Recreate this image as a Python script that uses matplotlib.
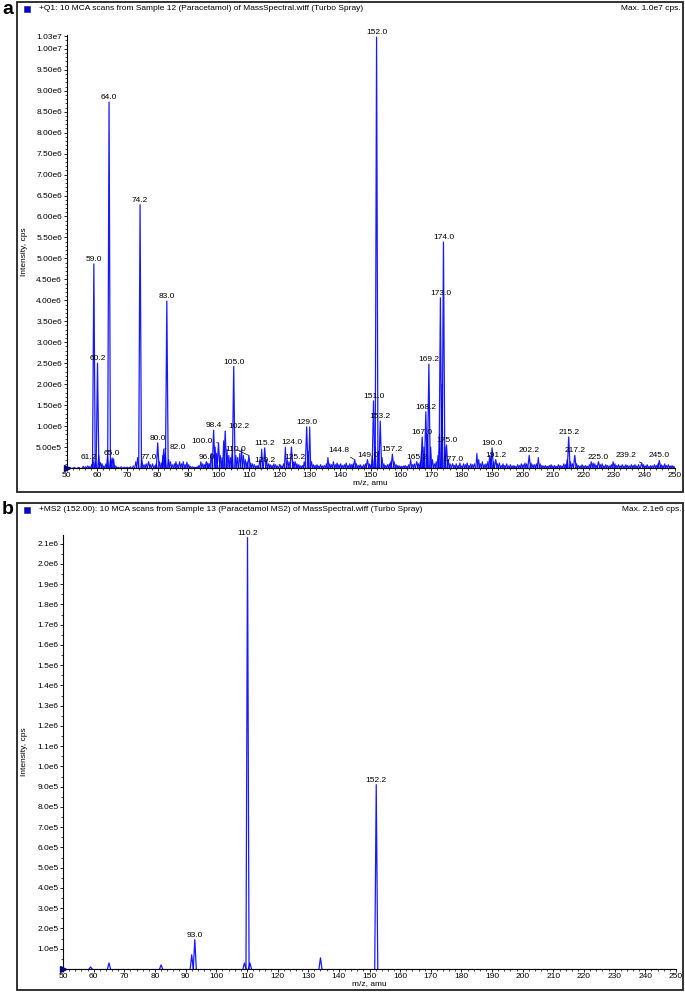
import matplotlib
matplotlib.use('Agg')
import matplotlib.pyplot as plt
from matplotlib.patches import Rectangle
from matplotlib.ticker import MultipleLocator, FixedLocator, FuncFormatter

plt.rcParams['font.family'] = ['Liberation Sans', 'DejaVu Sans']

# ---- panel a: Q1 scan, labelled peaks (m/z, cps)
a_peak_mz = [59.0, 60.2, 61.2, 64.0, 65.0, 74.2, 77.0, 80.0, 82.0, 83.0,
             96.0, 98.4, 100.0, 102.2, 105.0, 110.0, 115.2, 120.2, 124.0, 125.2,
             129.0, 144.8, 149.0, 151.0, 152.0, 153.2, 157.2, 165.2, 167.0, 168.2,
             169.2, 173.0, 174.0, 175.0, 177.0, 190.0, 191.2, 202.2, 215.2, 217.2,
             225.0, 239.2, 245.0]
a_peak_int = [4.87e6, 2.50e6, 1.2e5, 8.73e6, 2.4e5, 6.28e6, 1.5e5, 6.0e5, 4.5e5, 3.98e6,
              1.5e5, 9.0e5, 6.0e5, 8.8e5, 2.42e6, 3.0e5, 4.8e5, 0.8e5, 5.0e5, 1.5e5,
              9.8e5, 2.0e5, 2.0e5, 1.60e6, 1.028e7, 1.12e6, 3.3e5, 1.5e5, 7.4e5, 1.34e6,
              2.48e6, 4.06e6, 5.39e6, 5.5e5, 1.0e5, 4.8e5, 2.0e5, 3.0e5, 7.4e5, 3.0e5,
              1.5e5, 1.2e5, 1.8e5]

# unlabelled small peaks / noise in panel a (m/z, units of 1e5 cps)
a_noise_mz = [51.0, 52.5, 54.0, 55.5, 56.3, 57.0, 57.6, 58.3, 58.7, 59.5, 60.6, 61.7, 62.3, 63.0, 63.5,
              64.5, 65.5, 66.2, 67.0, 68.0, 69.0, 70.0, 71.0, 72.0, 72.8, 73.4, 74.8, 75.5, 76.2, 77.6,
              78.3, 79.0, 79.5, 80.6, 81.3, 81.7, 82.5, 83.6, 84.2, 84.8, 85.5, 86.0, 86.6, 87.2, 87.8,
              88.4, 89.0, 89.6, 90.2, 90.8, 91.5, 92.2, 93.0, 93.6, 94.2, 94.8, 95.4, 96.5, 97.0, 97.6,
              98.9, 99.4, 100.6, 101.2, 101.7, 102.8, 103.4, 104.0, 104.5, 105.7, 106.3, 107.0, 107.6, 108.2, 108.8,
              109.4, 110.6, 111.2, 111.8, 112.4, 113.0, 113.6, 114.2, 115.8, 116.5, 117.0, 117.6, 118.2, 118.8, 119.4,
              120.8, 121.4, 122.0, 122.6, 123.2, 124.6, 125.8, 126.4, 127.0, 127.6, 128.2, 129.5, 130.0, 130.6, 131.2,
              131.8, 132.4, 133.0, 133.6, 134.2, 134.8, 135.5, 136.0, 136.6, 137.2, 137.8, 138.4, 139.0, 139.6, 140.2,
              140.8, 141.4, 142.0, 142.6, 143.2, 143.8, 144.3, 145.4, 146.0, 146.6, 147.2, 147.8, 148.4, 149.6, 150.2,
              150.6, 151.5, 152.6, 153.8, 154.4, 155.0, 155.6, 156.2, 156.7, 157.8, 158.4, 159.0, 159.6, 160.2, 160.8,
              161.4, 162.0, 162.6, 163.2, 163.8, 164.4, 165.8, 166.4, 166.8, 167.6, 168.7, 169.8, 170.4, 171.0, 171.6,
              172.2, 172.7, 173.5, 174.5, 175.6, 176.2, 177.6, 178.2, 178.8, 179.4, 180.0, 180.6, 181.2, 181.8, 182.4,
              183.0, 183.6, 184.2, 185.0, 185.6, 186.2, 186.8, 187.4, 188.0, 188.6, 189.2, 189.6, 190.5, 191.8, 192.4,
              193.0, 193.6, 194.2, 194.8, 195.4, 196.0, 196.6, 197.2, 197.8, 198.4, 199.0, 199.6, 200.2, 200.8, 201.4,
              202.8, 203.4, 204.0, 204.6, 205.2, 205.8, 206.4, 207.0, 207.6, 208.2, 208.8, 209.4, 210.0, 210.6, 211.2,
              211.8, 212.4, 213.0, 213.6, 214.2, 214.7, 215.8, 216.4, 217.8, 218.4, 219.0, 219.6, 220.2, 220.8, 221.4,
              222.0, 222.6, 223.2, 223.8, 224.4, 225.6, 226.2, 226.8, 227.4, 228.0, 228.6, 229.2, 229.8, 230.4, 231.0,
              231.6, 232.2, 232.8, 233.4, 234.0, 234.6, 235.2, 235.8, 236.4, 237.0, 237.6, 238.2, 239.8, 240.4, 241.0,
              241.6, 242.2, 242.8, 243.4, 244.0, 244.6, 245.6, 246.2, 246.8, 247.4, 248.0, 248.6, 249.2, 249.8]
a_noise_int = [0.1, 0.1, 0.15, 0.4, 0.3, 0.5, 0.3, 0.8, 2.0, 1.5, 3.0, 1.0, 0.5, 1.0, 3.0,
               2.0, 2.2, 0.5, 0.2, 0.3, 0.2, 0.2, 0.3, 0.5, 1.5, 2.5, 2.0, 0.8, 1.0, 0.8,
               1.0, 0.5, 1.0, 1.5, 1.2, 3.0, 3.5, 2.0, 1.5, 0.8, 1.0, 1.5, 0.8, 1.5, 1.0,
               1.5, 0.8, 1.4, 0.8, 0.4, 0.3, 0.2, 0.3, 0.6, 1.5, 1.0, 0.8, 1.2, 1.0, 3.5,
               5.0, 3.5, 3.0, 2.5, 6.5, 4.5, 3.0, 2.5, 4.0, 3.0, 2.5, 3.5, 4.5, 3.0, 2.0,
               1.5, 1.2, 1.0, 0.8, 0.5, 0.6, 2.0, 4.5, 2.0, 1.0, 0.8, 0.6, 1.0, 0.8, 0.5,
               0.5, 1.0, 5.0, 2.0, 1.5, 1.5, 1.0, 0.8, 0.5, 0.6, 1.5, 4.0, 9.8, 1.5, 0.8,
               0.6, 0.8, 0.5, 0.8, 0.5, 0.6, 1.0, 2.5, 1.0, 0.8, 1.5, 0.8, 1.2, 0.8, 1.0,
               0.6, 0.8, 1.2, 0.6, 1.0, 0.8, 1.0, 1.0, 0.6, 0.8, 0.5, 0.8, 1.0, 1.0, 0.8,
               3.0, 5.0, 4.0, 2.5, 1.0, 0.6, 0.8, 1.0, 1.5, 1.5, 0.8, 0.6, 0.5, 0.4, 0.5,
               0.6, 0.4, 0.8, 2.0, 0.8, 1.0, 1.0, 1.5, 4.0, 5.0, 8.0, 5.0, 2.0, 1.0, 1.5,
               3.0, 8.0, 20.0, 5.0, 2.0, 1.0, 0.6, 1.0, 0.6, 1.2, 0.5, 1.0, 0.8, 1.2, 0.6,
               1.0, 0.8, 1.0, 3.5, 2.0, 1.0, 1.5, 0.8, 1.0, 1.5, 3.0, 2.5, 1.5, 1.0, 1.2,
               0.6, 1.0, 0.6, 1.0, 0.5, 0.8, 0.5, 0.6, 0.4, 0.8, 0.6, 1.0, 0.8, 1.2, 1.0,
               1.2, 0.8, 0.8, 1.0, 2.5, 1.0, 0.6, 0.5, 0.6, 0.4, 0.6, 0.8, 0.5, 0.6, 0.4,
               0.8, 0.6, 0.5, 1.0, 0.8, 2.0, 1.5, 1.0, 1.0, 0.6, 0.5, 0.8, 0.5, 0.6, 0.4,
               0.8, 1.5, 1.2, 1.0, 0.6, 0.8, 1.0, 0.5, 0.8, 0.6, 0.5, 0.8, 1.5, 1.0, 0.6,
               0.8, 0.5, 0.8, 0.5, 0.8, 0.6, 0.5, 0.8, 0.6, 0.8, 0.5, 0.8, 0.8, 0.5, 0.8,
               0.4, 0.6, 0.5, 0.8, 0.6, 1.0, 0.8, 0.6, 1.0, 0.6, 0.8, 0.5, 0.6, 0.4]

# labels moved sideways with a leader line: m/z -> (dx, dy) in pixels from peak top
a_label_shift = {61.2: (-12, 5), 82.0: (14, 2), 100.0: (-16, 1), 102.2: (14, 5),
                 110.0: (-13, 6), 120.2: (-15, 4), 144.8: (-16, 9), 239.2: (-16, 7)}

# ---- panel b: MS2 of 152
b_peak_mz = [59.0, 65.0, 82.0, 92.0, 93.0, 109.2, 110.2, 111.0, 134.0, 152.2]
b_peak_int = [0.1e5, 0.3e5, 0.2e5, 0.7e5, 1.45e5, 0.3e5, 2.13e6, 0.3e5, 0.55e5, 9.1e5]
b_labels = [93.0, 110.2, 152.2]

title_a = '+Q1: 10 MCA scans from Sample 12 (Paracetamol) of MassSpectral.wiff (Turbo Spray)'
title_b = '+MS2 (152.00): 10 MCA scans from Sample 13 (Paracetamol MS2) of MassSpectral.wiff (Turbo Spray)'
max_a = 'Max. 1.0e7 cps.'
max_b = 'Max. 2.1e6 cps.'

W, H = 685, 992
BLUE = '#0000ff'
FS = 6


def sci(v, digits):
    if v == 0:
        return ''
    s = f'{v:.{digits}e}'
    mant, exp = s.split('e')
    return f'{mant}e{int(exp)}'


def draw_peaks(ax, mzs, ints, hw, lw=0.8):
    for m, h in zip(mzs, ints):
        ax.plot([m - hw, m, m + hw], [0, h, 0], color=BLUE, lw=lw, alpha=0.9)


def setup_axes(ax, ymax, yticks, ydig, yminor):
    ax.set_xlim(50, 250)
    ax.set_ylim(0, ymax)
    for s in ['top', 'right']:
        ax.spines[s].set_visible(False)
    for s in ['left', 'bottom']:
        ax.spines[s].set_linewidth(0.8)
    ax.xaxis.set_major_locator(MultipleLocator(10))
    ax.xaxis.set_minor_locator(MultipleLocator(2))
    ax.yaxis.set_major_locator(FixedLocator(yticks))
    ax.yaxis.set_minor_locator(MultipleLocator(yminor))
    ax.yaxis.set_major_formatter(FuncFormatter(lambda v, p: sci(v, ydig)))
    ax.tick_params(which='major', length=2.2, width=0.6, pad=1, labelsize=FS)
    ax.tick_params(which='minor', length=1.2, width=0.5)
    ax.set_xlabel('m/z, amu', fontsize=FS, labelpad=0)
    ax.axhline(0, color=BLUE, lw=0.8, zorder=3)
    ax.plot(50, 0, marker='>', color='#00007a', ms=5, clip_on=False, zorder=5)


def px_rect(x0, y0, x1, y1):
    return [x0 / W, 1 - y1 / H, (x1 - x0) / W, (y1 - y0) / H]


fig = plt.figure(figsize=(W / 100, H / 100), dpi=100)

# frames and headers
for top, bot, letter, title, mx in [(2, 492, 'a', title_a, max_a), (503, 990, 'b', title_b, max_b)]:
    fig.patches.append(Rectangle((17 / W, 1 - bot / H), 666 / W, (bot - top) / H, fill=False,
                                 lw=1.3, edgecolor='#222222', transform=fig.transFigure))
    fig.text(2 / W, 1 - (top + 7) / H, letter, fontsize=14, fontweight='bold', va='center', ha='left',
             family=['Liberation Sans'])
    fig.patches.append(Rectangle((24 / W, 1 - (top + 10) / H), 6 / W, 6 / H, facecolor='#0000dd',
                                 edgecolor='#333366', lw=0.5, transform=fig.transFigure))
    fig.text(39 / W, 1 - (top + 6.5) / H, title, fontsize=FS, va='center', ha='left')
    fig.text(681 / W, 1 - (top + 6.5) / H, mx, fontsize=FS, va='center', ha='right')

# panel a
ax_a = fig.add_axes(px_rect(66.5, 35, 674.5, 468))
setup_axes(ax_a, 1.033e7, [i * 5e5 for i in range(1, 21)] + [1.03e7], 2, 1e5)
draw_peaks(ax_a, a_noise_mz, [v * 1e5 for v in a_noise_int], 0.35)
draw_peaks(ax_a, a_peak_mz, a_peak_int, 0.45, lw=0.9)
for m, h in zip(a_peak_mz, a_peak_int):
    if m in a_label_shift:
        dx, dy = a_label_shift[m]
        ax_a.annotate(f'{m:.1f}', xy=(m, h), xytext=(dx, dy), textcoords='offset pixels',
                      ha='center', va='center', fontsize=FS, zorder=6,
                      arrowprops=dict(arrowstyle='-', lw=0.5, color='black', shrinkA=0.5, shrinkB=0.5))
    else:
        ax_a.annotate(f'{m:.1f}', xy=(m, h), xytext=(0, 1), textcoords='offset pixels',
                      ha='center', va='bottom', fontsize=FS, zorder=6)

# panel b
ax_b = fig.add_axes(px_rect(63, 535, 676, 969))
setup_axes(ax_b, 2.143e6, [i * 1e5 for i in range(1, 22)], 1, 5e4)
draw_peaks(ax_b, b_peak_mz, b_peak_int, 0.5, lw=0.9)
for m, h in zip(b_peak_mz, b_peak_int):
    if m in b_labels:
        ax_b.annotate(f'{m:.1f}', xy=(m, h), xytext=(0, 1), textcoords='offset pixels',
                      ha='center', va='bottom', fontsize=FS, zorder=6)

for ax, top, bot in [(ax_a, 35, 468), (ax_b, 535, 969)]:
    fig.text(25 / W, 1 - (top + bot) / 2 / H, 'Intensity, cps', rotation=90, fontsize=FS,
             va='center', ha='center')

fig.savefig('out.png', dpi=100)
